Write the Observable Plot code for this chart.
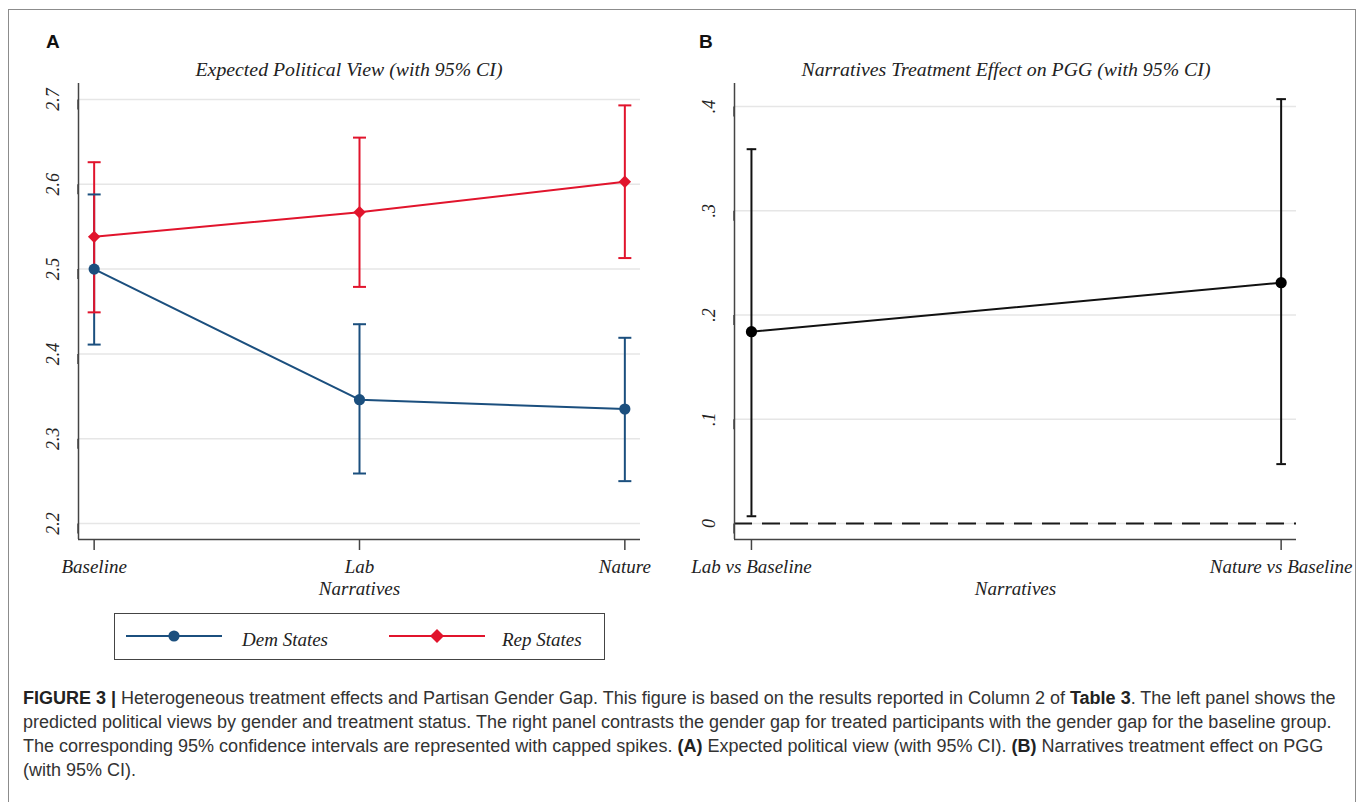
<!DOCTYPE html>
<html>
<head>
<meta charset="utf-8">
<script src="https://cdn.jsdelivr.net/npm/d3@7"></script>
<script src="https://cdn.jsdelivr.net/npm/@observablehq/plot@0.6"></script>
<style>
  html, body { margin: 0; padding: 0; background: #fff; }
  #page { position: relative; width: 1360px; height: 802px; overflow: hidden; font-family: "Liberation Serif", "Times New Roman", serif; }
  #border { position: absolute; left: 8px; top: 9px; width: 1348px; height: 840px; border: 1.5px solid #8c8c8c; box-sizing: border-box; }
  .panel { position: absolute; top: 0; }
  .plab { position: absolute; font-family: "Liberation Sans", Arial, sans-serif; font-weight: bold; font-size: 19px; line-height: 19px; color: #111; }
  .title { position: absolute; font-style: italic; font-size: 18px; line-height: 18px; color: #222; white-space: nowrap; transform: translateX(-50%) scaleX(1.1); }
  #legend { position: absolute; left: 114px; top: 613px; width: 491px; height: 47px; border: 1.5px solid #444; box-sizing: border-box; }
  .ltext { position: absolute; font-style: italic; font-size: 19px; line-height: 19px; color: #222; white-space: nowrap; }
  #caption { position: absolute; left: 23px; top: 686px; font-family: "Liberation Sans", Arial, sans-serif; font-size: 15px; line-height: 24px; color: #333; }
  #caption div { white-space: nowrap; }
  #caption b { color: #222; }
</style>
</head>
<body>
<div id="page">
  <div id="border"></div>
  <div id="panelA" class="panel" style="left:0px"></div>
  <div id="panelB" class="panel" style="left:660px"></div>
  <div class="plab" style="left:46px; top:32px">A</div>
  <div class="plab" style="left:699px; top:32px">B</div>
  <div class="title" style="left:349px; top:61px">Expected Political View (with 95% CI)</div>
  <div class="title" style="left:1006px; top:61px">Narratives Treatment Effect on PGG (with 95% CI)</div>
  <div id="legend"></div>
  <div id="caption">
    <div id="cap1"><b>FIGURE 3 |</b> Heterogeneous treatment effects and Partisan Gender Gap. This figure is based on the results reported in Column 2 of <b>Table 3</b>. The left panel shows the</div>
    <div>predicted political views by gender and treatment status. The right panel contrasts the gender gap for treated participants with the gender gap for the baseline group.</div>
    <div>The corresponding 95% confidence intervals are represented with capped spikes. <b>(A)</b> Expected political view (with 95% CI). <b>(B)</b> Narratives treatment effect on PGG</div>
    <div>(with 95% CI).</div>
  </div>
</div>
<script>
// ---------------- Panel A data ----------------
const categoriesA = ["Baseline", "Lab", "Nature"];
const seriesNames = ["Dem States", "Rep States"];
const demMean = [2.500, 2.346, 2.335];
const demLow  = [2.411, 2.259, 2.250];
const demHigh = [2.588, 2.435, 2.419];
const repMean = [2.538, 2.567, 2.603];
const repLow  = [2.449, 2.479, 2.513];
const repHigh = [2.626, 2.655, 2.693];
const yTicksA = [2.2, 2.3, 2.4, 2.5, 2.6, 2.7];
const yTickLabelsA = ["2.2", "2.3", "2.4", "2.5", "2.6", "2.7"];
const xLabelA = "Narratives";

// ---------------- Panel B data ----------------
const categoriesB = ["Lab vs Baseline", "Nature vs Baseline"];
const effMean = [0.184, 0.231];
const effLow  = [0.007, 0.057];
const effHigh = [0.359, 0.407];
const yTicksB = [0, 0.1, 0.2, 0.3, 0.4];
const yTickLabelsB = ["0", ".1", ".2", ".3", ".4"];
const xLabelB = "Narratives";

const seriesColors = ["#1b4f7e", "#e1142c"];

// table for panel A
const rowsA = [];
categoriesA.forEach((c, i) => rowsA.push({series: seriesNames[0], cat: c, xi: i, mean: demMean[i], lo: demLow[i], hi: demHigh[i]}));
categoriesA.forEach((c, i) => rowsA.push({series: seriesNames[1], cat: c, xi: i, mean: repMean[i], lo: repLow[i], hi: repHigh[i]}));
const rowsB = categoriesB.map((c, i) => ({cat: c, xi: i, mean: effMean[i], lo: effLow[i], hi: effHigh[i]}));

// horizontal cap symbol for the capped spikes
const capSymbol = {
  draw(context, size) {
    const r = Math.sqrt(size / Math.PI);
    context.moveTo(-r, 0);
    context.lineTo(r, 0);
  }
};

const baseStyle = {fontFamily: "'Liberation Serif', 'Times New Roman', serif", fontStyle: "italic", fontSize: "19px", color: "#222", background: "transparent", overflow: "visible"};
const axisColor = "#444";

// ---------------- Panel A ----------------
const xDomA = [-0.059, 2.059];
const yDomA = [2.1812, 2.7188];
const plotA = Plot.plot({
  width: 680, height: 610,
  marginLeft: 78, marginRight: 40, marginTop: 83, marginBottom: 71,
  style: baseStyle,
  x: {domain: xDomA, label: null},
  y: {domain: yDomA, label: null},
  color: {domain: seriesNames, range: seriesColors},
  symbol: {domain: seriesNames, range: ["circle", "diamond2"]},
  marks: [
    Plot.ruleY(yTicksA, {stroke: "#e6e6e6", strokeWidth: 1.5}),
    Plot.ruleX([xDomA[0]], {stroke: axisColor, strokeWidth: 1.5}),
    Plot.ruleY([yDomA[0]], {stroke: axisColor, strokeWidth: 1.5}),
    Plot.axisY({ticks: yTicksA, tickFormat: (d, i) => yTickLabelsA[i], label: null, tickSize: 10, tickPadding: 15, rotate: -90, textAnchor: "middle", fontSize: 18, stroke: axisColor, strokeWidth: 1.5, fill: "#222"}),
    Plot.axisX({ticks: categoriesA.map((c, i) => i), tickFormat: i => categoriesA[i], label: null, tickSize: 11, tickPadding: 9, fontSize: 19, stroke: axisColor, strokeWidth: 1.5, fill: "#222"}),
    Plot.text([xLabelA], {frameAnchor: "bottom", lineAnchor: "middle", dy: 49, fontSize: 19, fill: "#222"}),
    Plot.ruleX(rowsA, {x: "xi", y1: "lo", y2: "hi", stroke: "series", strokeWidth: 2}),
    Plot.dot(rowsA, {x: "xi", y: "lo", symbol: capSymbol, r: 6.5, stroke: "series", fill: "none", strokeWidth: 2}),
    Plot.dot(rowsA, {x: "xi", y: "hi", symbol: capSymbol, r: 6.5, stroke: "series", fill: "none", strokeWidth: 2}),
    Plot.line(rowsA, {x: "xi", y: "mean", z: "series", stroke: "series", strokeWidth: 2}),
    Plot.dot(rowsA, {x: "xi", y: "mean", fill: "series", symbol: "series", r: 5.6, stroke: "none"})
  ]
});
document.getElementById("panelA").appendChild(plotA);

// ---------------- Panel B ----------------
const xDomB = [-0.032, 1.029];
const yDomB = [-0.0153, 0.422];
const plotB = Plot.plot({
  width: 680, height: 610,
  marginLeft: 74, marginRight: 44, marginTop: 83, marginBottom: 71,
  style: baseStyle,
  x: {domain: xDomB, label: null},
  y: {domain: yDomB, label: null},
  marks: [
    Plot.ruleY(yTicksB, {stroke: "#e6e6e6", strokeWidth: 1.5}),
    Plot.ruleY([0], {stroke: "#1a1a1a", strokeWidth: 2, strokeDasharray: "18,10"}),
    Plot.ruleX([xDomB[0]], {stroke: axisColor, strokeWidth: 1.5}),
    Plot.ruleY([yDomB[0]], {stroke: axisColor, strokeWidth: 1.5}),
    Plot.axisY({ticks: yTicksB, tickFormat: (d, i) => yTickLabelsB[i], label: null, tickSize: 10, tickPadding: 15, rotate: -90, textAnchor: "middle", fontSize: 18, stroke: axisColor, strokeWidth: 1.5, fill: "#222"}),
    Plot.axisX({ticks: categoriesB.map((c, i) => i), tickFormat: i => categoriesB[i], label: null, tickSize: 11, tickPadding: 9, fontSize: 19, stroke: axisColor, strokeWidth: 1.5, fill: "#222"}),
    Plot.text([xLabelB], {frameAnchor: "bottom", lineAnchor: "middle", dy: 49, fontSize: 19, fill: "#222"}),
    Plot.ruleX(rowsB, {x: "xi", y1: "lo", y2: "hi", stroke: "#111", strokeWidth: 2}),
    Plot.dot(rowsB, {x: "xi", y: "lo", symbol: capSymbol, r: 4.8, stroke: "#111", fill: "none", strokeWidth: 2}),
    Plot.dot(rowsB, {x: "xi", y: "hi", symbol: capSymbol, r: 4.8, stroke: "#111", fill: "none", strokeWidth: 2}),
    Plot.line(rowsB, {x: "xi", y: "mean", stroke: "#111", strokeWidth: 2}),
    Plot.dot(rowsB, {x: "xi", y: "mean", fill: "#000", r: 5.6})
  ]
});
document.getElementById("panelB").appendChild(plotB);

// ---------------- Legend ----------------
const legend = document.getElementById("legend");
const symbolsL = ["circle", "diamond"];
seriesNames.forEach((name, i) => {
  const x0 = i === 0 ? 10 : 273;
  const svgNS = "http://www.w3.org/2000/svg";
  const svg = document.createElementNS(svgNS, "svg");
  svg.setAttribute("width", 100); svg.setAttribute("height", 20);
  svg.style.position = "absolute"; svg.style.left = x0 + "px"; svg.style.top = "12px";
  const ln = document.createElementNS(svgNS, "line");
  ln.setAttribute("x1", 1); ln.setAttribute("x2", 97); ln.setAttribute("y1", 10); ln.setAttribute("y2", 10);
  ln.setAttribute("stroke", seriesColors[i]); ln.setAttribute("stroke-width", 2);
  svg.appendChild(ln);
  let mk;
  if (symbolsL[i] === "circle") {
    mk = document.createElementNS(svgNS, "circle");
    mk.setAttribute("cx", 49); mk.setAttribute("cy", 10); mk.setAttribute("r", 5.6);
  } else {
    mk = document.createElementNS(svgNS, "path");
    mk.setAttribute("d", "M49,3 L56,10 L49,17 L42,10 Z");
  }
  mk.setAttribute("fill", seriesColors[i]);
  svg.appendChild(mk);
  legend.appendChild(svg);
  const t = document.createElement("div");
  t.className = "ltext";
  t.textContent = name;
  t.style.left = (i === 0 ? 127 : 387) + "px";
  t.style.top = "16px";
  legend.appendChild(t);
});

// fit caption first line to the reference width
const cap1 = document.getElementById("cap1");
const w = cap1.getBoundingClientRect().width;
const target = 1313;
const fs = 15 * target / w;
document.getElementById("caption").style.fontSize = fs.toFixed(2) + "px";
</script>
</body>
</html>
